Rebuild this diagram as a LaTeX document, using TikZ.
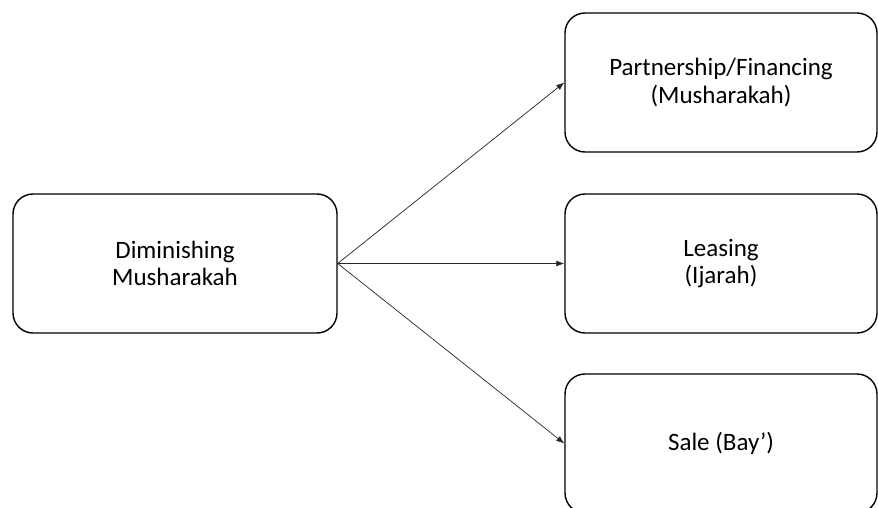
\documentclass[tikz,border=0pt]{standalone}
\usepackage{fontspec}
\setmainfont{Carlito}
\usetikzlibrary{arrows.meta}
\begin{document}
\begin{tikzpicture}[x=1pt,y=-1pt,
  roundbox/.style={draw=black, line width=1.4pt, rounded corners=20pt,
    align=center, font=\fontsize{25}{27.5}\selectfont, inner sep=0pt,
    minimum height=139pt},
  leftbox/.style={roundbox, minimum width=324pt},
  rightbox/.style={roundbox, minimum width=312pt},
  link/.style={draw=black!85, line width=0.7pt, -{Latex[length=8pt,width=6pt]}}]
  \clip (0,0) rectangle (878,508);
  \node[leftbox]  (dm) at (175,263.5) {Diminishing\\Musharakah};
  \node[rightbox] (pf) at (721,82.5)  {Partnership/Financing\\(Musharakah)};
  \node[rightbox] (le) at (721,263.5) {Leasing\\(Ijarah)};
  \node[rightbox] (sa) at (721,443.5) {Sale (Bay’)};
  \draw[link] (dm.east) -- (pf.west);
  \draw[link] (dm.east) -- (le.west);
  \draw[link] (dm.east) -- (sa.west);
\end{tikzpicture}
\end{document}
